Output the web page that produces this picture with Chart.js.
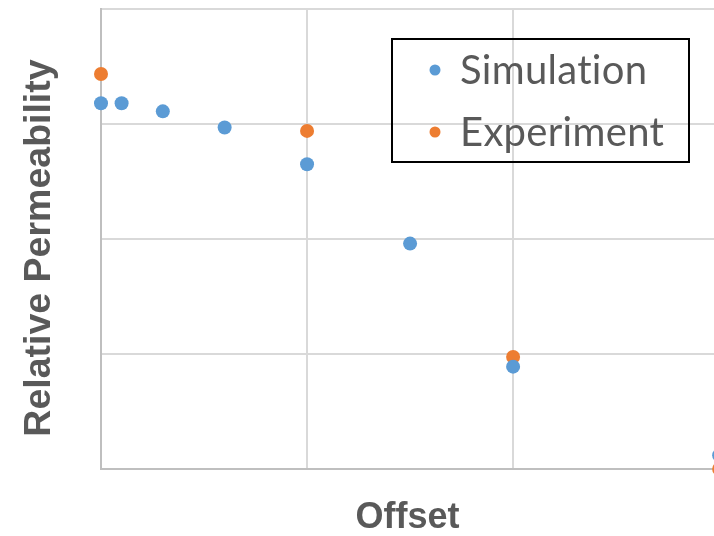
<!DOCTYPE html>
<html>
<head>
<meta charset="utf-8">
<script src="https://cdn.jsdelivr.net/npm/chart.js@4/dist/chart.umd.min.js"></script>
<style>
  html, body { margin: 0; padding: 0; overflow: hidden; background: #fff; }
  #wrap { width: 714px; height: 536px; }
  #c { display: block; width: 714px; height: 536px; }
</style>
</head>
<body>
<div id="wrap"><canvas id="c" width="714" height="536"></canvas></div>
<script>
// Offset positions and relative permeability values
const simOffset = [0, 0.1, 0.3, 0.6, 1.0, 1.5, 2.0, 3.0];
const simPerm   = [3.18, 3.18, 3.11, 2.97, 2.65, 1.96, 0.89, 0.12];
const expOffset = [0, 1.0, 2.0, 3.0];
const expPerm   = [3.435, 2.94, 0.975, 0.0];
const seriesNames = ['Simulation', 'Experiment'];
const seriesColors = ['#5B9BD5', '#ED7D31'];
const xTitle = 'Offset';
const yTitle = 'Relative Permeability';

const toPoints = (xs, ys) => xs.map((x, i) => ({ x, y: ys[i] }));

// Boxed legend drawn inside the plot area (transparent, gridlines show through)
const boxLegend = {
  id: 'boxLegend',
  afterDraw(chart) {
    const ctx = chart.ctx;
    ctx.save();
    ctx.strokeStyle = '#000000';
    ctx.lineWidth = 2;
    ctx.strokeRect(392, 39, 297, 123);
    ctx.font = '40px Lato';
    ctx.letterSpacing = '0.3px';
    ctx.textBaseline = 'middle';
    chart.data.datasets.forEach((ds, i) => {
      const y = 70 + i * 62;
      ctx.fillStyle = ds.backgroundColor;
      ctx.beginPath();
      ctx.arc(435, y, 5.5, 0, Math.PI * 2);
      ctx.fill();
      ctx.fillStyle = '#595959';
      ctx.fillText(ds.label, 460, y + 1);
    });
    ctx.restore();
  }
};

// Vertical axis title, set slightly below the plot's mid-height
const yAxisTitle = {
  id: 'yAxisTitle',
  afterDraw(chart) {
    const ctx = chart.ctx;
    ctx.save();
    ctx.translate(50, 248);
    ctx.rotate(-Math.PI / 2);
    ctx.font = 'bold 37.5px "Liberation Sans"';
    ctx.fillStyle = '#595959';
    ctx.textAlign = 'center';
    ctx.textBaseline = 'alphabetic';
    ctx.fillText(yTitle, 0, 0);
    ctx.restore();
  }
};

const keepWholeTicks = (scale) => {
  scale.ticks = scale.ticks.filter(t => Math.abs(t.value - Math.round(t.value)) < 1e-9);
};

new Chart(document.getElementById('c'), {
  type: 'scatter',
  data: {
    datasets: [
      {
        label: seriesNames[0],
        data: toPoints(simOffset, simPerm),
        backgroundColor: seriesColors[0],
        borderColor: seriesColors[0],
        pointRadius: 7,
        borderWidth: 0,
        clip: false
      },
      {
        label: seriesNames[1],
        data: toPoints(expOffset, expPerm),
        backgroundColor: seriesColors[1],
        borderColor: seriesColors[1],
        pointRadius: 7,
        borderWidth: 0,
        clip: false
      }
    ]
  },
  options: {
    responsive: false,
    animation: false,
    layout: { autoPadding: false, padding: { top: 9, right: 0, bottom: 0, left: 0 } },
    plugins: {
      legend: { display: false },
      tooltip: { enabled: false }
    },
    scales: {
      x: {
        type: 'linear',
        min: 0,
        max: 2.975,
        ticks: { display: false, stepSize: 1 },
        afterBuildTicks: keepWholeTicks,
        grid: { color: '#D9D9D9', lineWidth: 2, drawTicks: false },
        border: { color: '#BFBFBF', width: 2 },
        title: {
          display: true,
          text: xTitle,
          color: '#595959',
          font: { family: 'Liberation Sans', size: 36, weight: 'bold', lineHeight: 1 },
          padding: { top: 0, bottom: 0 }
        },
        afterFit(scale) { scale.height = 67; }
      },
      y: {
        type: 'linear',
        min: 0,
        max: 4,
        ticks: { display: false, stepSize: 1 },
        grid: { color: '#D9D9D9', lineWidth: 2, drawTicks: false },
        border: { color: '#BFBFBF', width: 2 },
        title: { display: false },
        afterFit(scale) { scale.width = 101; }
      }
    }
  },
  plugins: [boxLegend, yAxisTitle]
});
</script>
</body>
</html>
